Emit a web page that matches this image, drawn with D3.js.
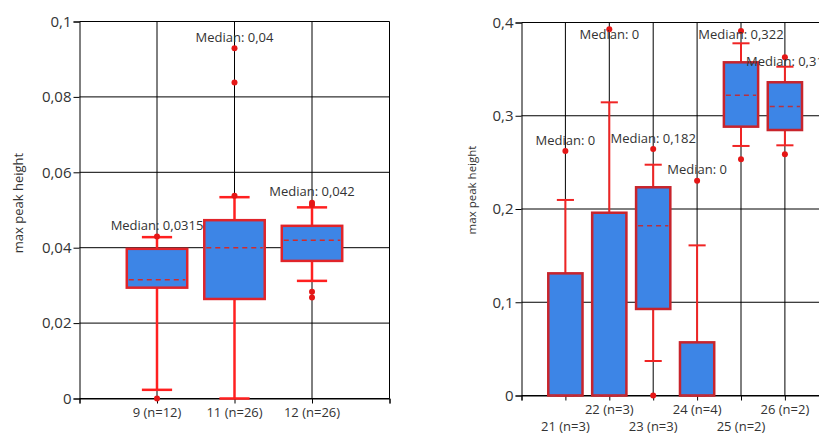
<!DOCTYPE html>
<html><head><meta charset="utf-8">
<script src="https://cdn.jsdelivr.net/npm/d3@7"></script>
<style>
html,body{margin:0;padding:0;background:#fff;overflow:hidden;}
text{font-family:"Open Sans",sans-serif;fill:#333;}
</style></head>
<body>
<svg id="chart" width="819" height="435"></svg>
<script>
// ---- Left chart data ----
const leftCategories = ["9 (n=12)", "11 (n=26)", "12 (n=26)"];
const leftLow    = [0.0023, 0, 0.0312];
const leftQ1     = [0.0294, 0.0264, 0.0365];
const leftMedian = [0.0315, 0.04, 0.042];
const leftQ3     = [0.0397, 0.0473, 0.0458];
const leftHigh   = [0.0428, 0.0534, 0.0507];
const leftOutliers = [[0.043, 0], [0.0538, 0.0838, 0.0929], [0.0519, 0.0513, 0.0283, 0.0268]];
const leftYTicks = [0, 0.02, 0.04, 0.06, 0.08, 0.1];

// ---- Right chart data ----
const rightCategories = ["21 (n=3)", "22 (n=3)", "23 (n=3)", "24 (n=4)", "25 (n=2)", "26 (n=2)"];
const rightLow    = [0, 0, 0.037, 0, 0.2676, 0.2683];
const rightQ1     = [0, 0, 0.0928, 0, 0.2883, 0.2847];
const rightMedian = [0, 0, 0.182, 0, 0.322, 0.31];
const rightQ3     = [0.131, 0.196, 0.2233, 0.057, 0.3573, 0.3359];
const rightHigh   = [0.2097, 0.3144, 0.2475, 0.161, 0.3777, 0.3526];
const rightOutliers = [[0.2622], [0.3927], [0.2643, 0], [0.2303], [0.3909, 0.2533], [0.3627, 0.2587]];
const rightYTicks = [0, 0.1, 0.2, 0.3, 0.4];

const yTitle = "max peak height";

const svg = d3.select("#chart");
const fmt = v => String(v).replace(".", ",");

function drawChart(o) {
  const g = svg.append("g");
  const n = o.cats.length;
  const x = d3.scaleLinear().domain([0, n + 1]).range([o.left, o.right]);
  const y = d3.scaleLinear().domain([0, o.yMax]).range([o.bottom, o.top]);
  const band = x(1) - x(0);
  const boxW = band * 0.78, capW = band * 0.39;

  // gridlines
  g.append("g").selectAll("line.h").data(o.yTicks).join("line")
    .attr("x1", o.left).attr("x2", o.right)
    .attr("y1", d => y(d)).attr("y2", d => y(d))
    .attr("stroke", "#000").attr("stroke-width", 1);
  g.append("g").selectAll("line.v").data(d3.range(1, n + 2)).join("line")
    .attr("x1", d => x(d)).attr("x2", d => x(d))
    .attr("y1", o.top).attr("y2", o.bottom)
    .attr("stroke", "#000").attr("stroke-width", 1);

  // axes
  const ya = g.append("g").attr("transform", `translate(${o.left},0)`)
    .call(d3.axisLeft(y).tickValues(o.yTicks).tickSize(6).tickPadding(2).tickFormat(fmt));
  ya.select(".domain").attr("stroke", "#000");
  ya.selectAll("text").style("font-size", o.yTickFont + "px").attr("fill", "#333");
  const xa = g.append("g").attr("transform", `translate(0,${o.bottom})`)
    .call(d3.axisBottom(x).tickValues(d3.range(0, n + 2)).tickSize(5).tickFormat(""));
  xa.select(".domain").attr("stroke", "#000");

  // category labels
  g.append("g").selectAll("text").data(o.cats).join("text")
    .attr("x", (d, i) => x(i + 1))
    .attr("y", (d, i) => (o.stagger && i % 2 === 0) ? o.bottom + 31 : o.bottom + 14)
    .attr("dy", "0.35em").attr("text-anchor", "middle")
    .style("font-size", "13px").text(d => d);

  // boxes
  const items = o.cats.map((c, i) => ({
    i, low: o.low[i], q1: o.q1[i], med: o.med[i], q3: o.q3[i], high: o.high[i], out: o.out[i]
  }));
  const bg = g.append("g");
  items.forEach(d => {
    const cx = x(d.i + 1);
    const b = bg.append("g");
    // whiskers
    b.append("line").attr("x1", cx).attr("x2", cx).attr("y1", y(d.q3)).attr("y2", y(d.high))
      .attr("stroke", o.whisk).attr("stroke-width", o.wW);
    b.append("line").attr("x1", cx - capW / 2).attr("x2", cx + capW / 2).attr("y1", y(d.high)).attr("y2", y(d.high))
      .attr("stroke", o.whisk).attr("stroke-width", o.wW);
    b.append("line").attr("x1", cx).attr("x2", cx).attr("y1", y(d.q1)).attr("y2", y(d.low))
      .attr("stroke", o.whisk).attr("stroke-width", o.wW);
    b.append("line").attr("x1", cx - capW / 2).attr("x2", cx + capW / 2).attr("y1", y(d.low)).attr("y2", y(d.low))
      .attr("stroke", o.whisk).attr("stroke-width", o.wW);
    // box
    b.append("rect").attr("x", cx - boxW / 2).attr("width", boxW)
      .attr("y", y(d.q3)).attr("height", y(d.q1) - y(d.q3))
      .attr("fill", "#3d85e6").attr("stroke", o.border).attr("stroke-width", o.bW);
    // median
    b.append("line").attr("x1", cx - boxW / 2 + 2).attr("x2", cx + boxW / 2 - 2)
      .attr("y1", y(d.med)).attr("y2", y(d.med))
      .attr("stroke", o.medCol).attr("stroke-width", 1.5).attr("stroke-dasharray", "5,4");
    // outliers
    b.selectAll("circle").data(d.out).join("circle")
      .attr("cx", cx).attr("cy", v => y(v)).attr("r", 3).attr("fill", "#e51616");
  });

  // median labels
  const lh = 13.5;
  let prev = null;
  items.forEach(d => {
    const cx = x(d.i + 1);
    const topV = Math.max(d.high, ...d.out);
    let cy = Math.max(y(topV) - 11, o.top + 11.5);
    const t = g.append("text").attr("x", cx).attr("y", cy).attr("dy", "0.35em")
      .attr("text-anchor", "middle").style("font-size", "13px")
      .text("Median: " + fmt(d.med));
    const w = t.node().getComputedTextLength();
    if (prev && Math.abs(prev.cy - cy) < lh && (cx - w / 2) < prev.x2) {
      cy = prev.cy + 2 * lh;
      t.attr("y", cy);
    }
    prev = { cy, x2: cx + w / 2 };
  });

  // y title
  g.append("text")
    .attr("transform", `translate(${o.titleX},${o.titleY}) rotate(-90)`)
    .attr("text-anchor", "middle").attr("dy", "0.35em")
    .style("font-size", o.titleFont + "px").text(yTitle);
}

drawChart({
  cats: leftCategories, low: leftLow, q1: leftQ1, med: leftMedian, q3: leftQ3, high: leftHigh, out: leftOutliers,
  yTicks: leftYTicks, yMax: 0.1, left: 79.5, right: 389.5, top: 21.5, bottom: 398.5,
  whisk: "#ff2020", wW: 2.5, border: "#e0242a", bW: 2.5, medCol: "#d42a2a",
  yTickFont: 15, titleX: 18, titleY: 203, titleFont: 13, stagger: false
});
drawChart({
  cats: rightCategories, low: rightLow, q1: rightQ1, med: rightMedian, q3: rightQ3, high: rightHigh, out: rightOutliers,
  yTicks: rightYTicks, yMax: 0.4, left: 521.5, right: 521.5 + 7 * 43.9, top: 22.5, bottom: 395.5,
  whisk: "#f02424", wW: 2, border: "#c8242c", bW: 2.5, medCol: "#b83040",
  yTickFont: 15, titleX: 472, titleY: 190, titleFont: 11.5, stagger: true
});
</script>
</body></html>
